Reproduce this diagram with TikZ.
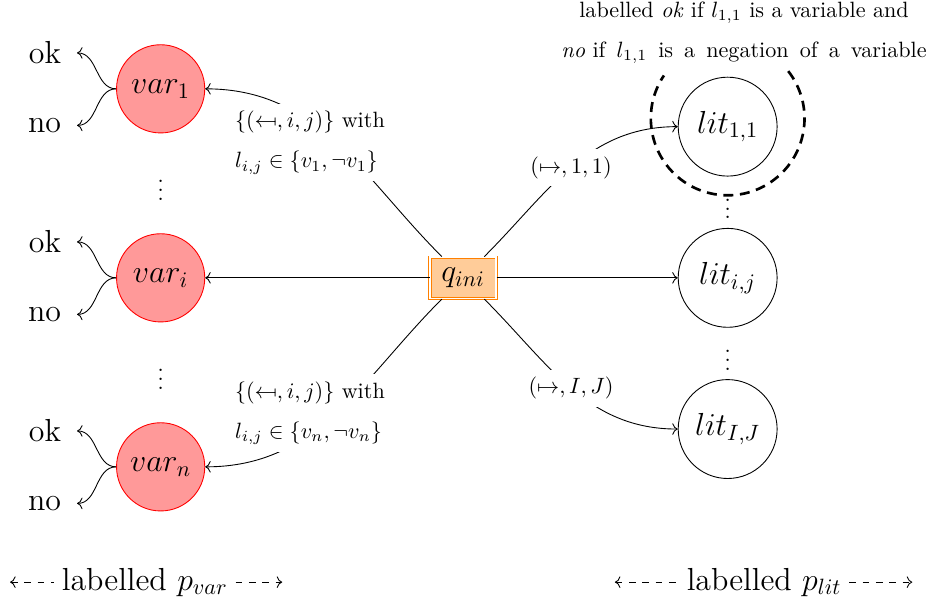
\documentclass[tikz,border=0pt]{standalone}
\usepackage{amsmath,amssymb}
\usepackage{graphicx}
\usetikzlibrary{arrows.meta,positioning,calc}
\newcommand{\mfrom}{\mathrel{\reflectbox{$\mapsto$}}}
\tikzset{
  varnode/.style={circle, draw=red, fill=red!40, minimum size=1.4cm,
                  font=\Large, inner sep=1pt},
  litnode/.style={circle, draw=black, minimum size=1.57cm,
                  font=\Large, inner sep=1pt},
  initnode/.style={rectangle, draw=orange, fill=orange!40, double,
                   minimum width=1.05cm, minimum height=0.66cm, font=\Large},
  outcome/.style={font=\Large, inner xsep=7pt},
  edgelab/.style={fill=white, font=\normalsize},
  trans/.style={->},
  marker/.style={very thick, dash pattern=on 4.5pt off 3pt},
  legend/.style={dashed},
}

\begin{document}
\begin{tikzpicture}
\useasboundingbox (-7.35,-5.16) rectangle (7.38,4.41);

%% Column x-positions
\def\xV{-4.8}  % variables
\def\xL{4.2}   % literals

%% Start node
\node[initnode] (qini) at (0,0) {$q_{ini}$};

%% Variable nodes
\node[varnode] (var1) at (\xV,3)  {$var_1$};
\node[varnode] (vari) at (\xV,0)  {$var_i$};
\node[varnode] (varn) at (\xV,-3) {$var_n$};
\node (vdotsA) at (\xV,1.5)  {$\vdots$};
\node (vdotsB) at (\xV,-1.5) {$\vdots$};

%% Literal nodes
\node[litnode] (lit11) at (\xL,2.4)  {$lit_{1,1}$};
\node[litnode] (litij) at (\xL,0)    {$lit_{i,j}$};
\node[litnode] (litIJ) at (\xL,-2.4) {$lit_{I,J}$};
\node (ldotsA) at (\xL,1.2)  {$\vdots$};
\node (ldotsB) at (\xL,-1.2) {$\vdots$};

%% ── ok / no outcomes of each variable ───────────────────────────────────
\node[outcome, anchor=east] (ok1) at ([shift={(-0.62,0.57)}]var1.west)  {ok};
\node[outcome, anchor=east] (no1) at ([shift={(-0.62,-0.58)}]var1.west) {no};
\node[outcome, anchor=east] (oki) at ([shift={(-0.62,0.57)}]vari.west)  {ok};
\node[outcome, anchor=east] (noi) at ([shift={(-0.62,-0.58)}]vari.west) {no};
\node[outcome, anchor=east] (okn) at ([shift={(-0.62,0.57)}]varn.west)  {ok};
\node[outcome, anchor=east] (non) at ([shift={(-0.62,-0.58)}]varn.west) {no};
\draw[trans] (var1.west) to[out=180,in=0] (ok1);
\draw[trans] (var1.west) to[out=180,in=0] (no1);
\draw[trans] (vari.west) to[out=180,in=0] (oki);
\draw[trans] (vari.west) to[out=180,in=0] (noi);
\draw[trans] (varn.west) to[out=180,in=0] (okn);
\draw[trans] (varn.west) to[out=180,in=0] (non);

%% ── transitions from q_ini ──────────────────────────────────────────────
\draw[trans] (qini) -- (vari);
\draw[trans] (qini) -- (litij);
\draw[trans] (qini) to[out=135,in=0]
     node[edgelab, text width=3.2cm] (labA)
     {$\{(\mfrom,i,j)\}$ with\\[6pt] $l_{i,j}\in\{v_1,\neg v_1\}$} (var1);
\draw[trans] (qini) to[out=-135,in=0]
     node[edgelab, text width=3.2cm] (labB)
     {$\{(\mfrom,i,j)\}$ with\\[6pt] $l_{i,j}\in\{v_n,\neg v_n\}$} (varn);
\draw[trans] (qini) to[out=45,in=180]
     node[edgelab] (labC) {$(\mapsto,1,1)$} (lit11);
\draw[trans] (qini) to[out=-45,in=180]
     node[edgelab] (labD) {$(\mapsto,I,J)$} (litIJ);

%% ── marking of lit_{1,1} ────────────────────────────────────────────────
\draw[marker] (lit11.center) ++(0,0.13) ++(38:1.22)
     arc[start angle=38, end angle=-214, radius=1.22];
\node[align=center] (note) at (4.46,3.89)
     {labelled \emph{ok} if $l_{1,1}$ is a variable and\\[6pt]
      \emph{no} if \,$l_{1,1}$\, is \,a\, negation \,of\, a\, variable};

%% ── column legends ──────────────────────────────────────────────────────
\node[font=\Large] (pvar) at (-5.05,-4.83) {labelled $p_{var}$};
\coordinate (pvarL) at (-7.19,-4.83);
\coordinate (pvarR) at (-2.87,-4.83);
\draw[legend, <-] (pvarL) -- (pvar);
\draw[legend, ->] (pvar) -- (pvarR);

\node[font=\Large] (plit) at (4.78,-4.83) {labelled $p_{lit}$};
\coordinate (plitL) at (2.41,-4.83);
\coordinate (plitR) at (7.13,-4.83);
\draw[legend, <-] (plitL) -- (plit);
\draw[legend, ->] (plit) -- (plitR);

\end{tikzpicture}
\end{document}
